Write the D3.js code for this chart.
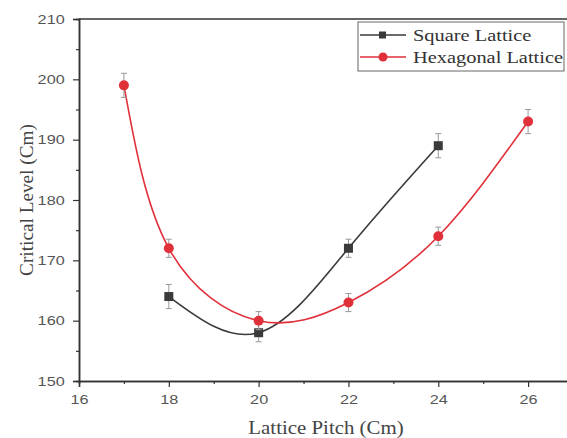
<!DOCTYPE html>
<html>
<head>
<meta charset="utf-8">
<script src="https://cdn.jsdelivr.net/npm/d3@7"></script>
<style>
  body { margin: 0; background: #fff; }
  svg { display: block; }
</style>
</head>
<body>
<div id="chart"></div>
<script>
// data
var squarePitch = [18, 20, 22, 24];
var squareLevel = [164, 158, 172, 189];
var squareErr = [2, 1.5, 1.5, 2];

var hexPitch = [17, 18, 20, 22, 24, 26];
var hexLevel = [199, 172, 160, 163, 174, 193];
var hexErr = [2, 1.5, 1.5, 1.5, 1.5, 2];

var xTicks = [16, 18, 20, 22, 24, 26];
var yTicks = [150, 160, 170, 180, 190, 200, 210];

var width = 567, height = 438;
var serif = "Liberation Serif, Times New Roman, serif";
var sans = "Liberation Sans, Arial, sans-serif";

var svg = d3.select("#chart").append("svg")
    .attr("width", width)
    .attr("height", height);

var xScale = d3.scaleLinear().domain([16, 27]).range([79, 573]);
var yScale = d3.scaleLinear().domain([150, 210]).range([381, 19]);

// frame top line
svg.append("line")
    .attr("x1", xScale(16)).attr("x2", width)
    .attr("y1", yScale(210)).attr("y2", yScale(210))
    .attr("stroke", "#333").attr("stroke-width", 1.5);

// minor ticks
var xAxisMinor = d3.axisBottom(xScale).tickValues([17, 19, 21, 23, 25]).tickSize(3).tickFormat("");
var yAxisMinor = d3.axisLeft(yScale).tickValues([155, 165, 175, 185, 195, 205]).tickSize(3).tickFormat("");

var xAxis = d3.axisBottom(xScale).tickValues(xTicks).tickSize(6).tickPadding(8).tickFormat(d3.format("d"));
var yAxis = d3.axisLeft(yScale).tickValues(yTicks).tickSize(6).tickPadding(5).tickFormat(d3.format("d"));

function styleAxis(g) {
    g.select(".domain").attr("stroke", "#333").attr("stroke-width", 1.5);
    g.selectAll(".tick line").attr("stroke", "#333").attr("stroke-width", 1.2);
    g.selectAll("text")
        .attr("fill", "#555")
        .attr("transform", "scale(1.3,1)")
        .style("font-family", sans)
        .style("font-size", "12.5px");
}

svg.append("g").attr("transform", "translate(0," + yScale(150) + ")").call(xAxisMinor).call(styleAxis);
svg.append("g").attr("transform", "translate(" + xScale(16) + ",0)").call(yAxisMinor).call(styleAxis);
svg.append("g").attr("transform", "translate(0," + yScale(150) + ")").call(xAxis).call(styleAxis);
svg.append("g").attr("transform", "translate(" + xScale(16) + ",0)").call(yAxis).call(styleAxis);

// axis titles
svg.append("text")
    .attr("transform", "translate(326,434) scale(1.16,1)")
    .attr("text-anchor", "middle")
    .style("font-family", serif)
    .style("font-size", "18px")
    .attr("fill", "#444")
    .text("Lattice Pitch (Cm)");

svg.append("text")
    .attr("transform", "translate(33,200) rotate(-90) scale(1.07,1)")
    .attr("text-anchor", "middle")
    .style("font-family", serif)
    .style("font-size", "18px")
    .attr("fill", "#444")
    .text("Critical Level (Cm)");

var series = [
    { name: "Square Lattice", x: squarePitch, y: squareLevel, err: squareErr, color: "#3a3a3a", shape: "square" },
    { name: "Hexagonal Lattice", x: hexPitch, y: hexLevel, err: hexErr, color: "#e0313b", shape: "circle" }
];

var line = d3.line()
    .x(function (d) { return xScale(d[0]); })
    .y(function (d) { return yScale(d[1]); })
    .curve(d3.curveNatural);

series.forEach(function (s) {
    var pts = s.x.map(function (v, i) { return [v, s.y[i], s.err[i]]; });
    var g = svg.append("g");

    g.append("path")
        .datum(pts)
        .attr("d", line)
        .attr("fill", "none")
        .attr("stroke", s.color)
        .attr("stroke-width", 1.6);

    // error bars
    var eb = g.selectAll(".err").data(pts).enter().append("g");
    eb.append("line")
        .attr("x1", function (d) { return xScale(d[0]); })
        .attr("x2", function (d) { return xScale(d[0]); })
        .attr("y1", function (d) { return yScale(d[1] - d[2]); })
        .attr("y2", function (d) { return yScale(d[1] + d[2]); })
        .attr("stroke", "#999").attr("stroke-width", 1);
    [-1, 1].forEach(function (sgn) {
        eb.append("line")
            .attr("x1", function (d) { return xScale(d[0]) - 3; })
            .attr("x2", function (d) { return xScale(d[0]) + 3; })
            .attr("y1", function (d) { return yScale(d[1] + sgn * d[2]); })
            .attr("y2", function (d) { return yScale(d[1] + sgn * d[2]); })
            .attr("stroke", "#999").attr("stroke-width", 1);
    });

    if (s.shape === "square") {
        g.selectAll(".mk").data(pts).enter().append("rect")
            .attr("x", function (d) { return xScale(d[0]) - 4.5; })
            .attr("y", function (d) { return yScale(d[1]) - 4.5; })
            .attr("width", 9).attr("height", 9)
            .attr("fill", s.color);
    } else {
        g.selectAll(".mk").data(pts).enter().append("circle")
            .attr("cx", function (d) { return xScale(d[0]); })
            .attr("cy", function (d) { return yScale(d[1]); })
            .attr("r", 5)
            .attr("fill", s.color);
    }
});

// legend
var legend = svg.append("g").attr("transform", "translate(358,22)");
legend.append("rect")
    .attr("width", 206).attr("height", 49)
    .attr("fill", "#fff").attr("stroke", "#666").attr("stroke-width", 1);

series.forEach(function (s, i) {
    var y = 13 + i * 22;
    legend.append("line")
        .attr("x1", 2).attr("x2", 48).attr("y1", y).attr("y2", y)
        .attr("stroke", s.color).attr("stroke-width", 1.6);
    if (s.shape === "square") {
        legend.append("rect").attr("x", 21).attr("y", y - 3.5).attr("width", 7).attr("height", 7).attr("fill", s.color);
    } else {
        legend.append("circle").attr("cx", 25).attr("cy", y).attr("r", 4.5).attr("fill", s.color);
    }
    legend.append("text")
        .attr("transform", "translate(55," + (y + 6) + ") scale(1.2,1)")
        .style("font-family", serif)
        .style("font-size", "17px")
        .attr("fill", "#333")
        .text(s.name);
});
</script>
</body>
</html>
